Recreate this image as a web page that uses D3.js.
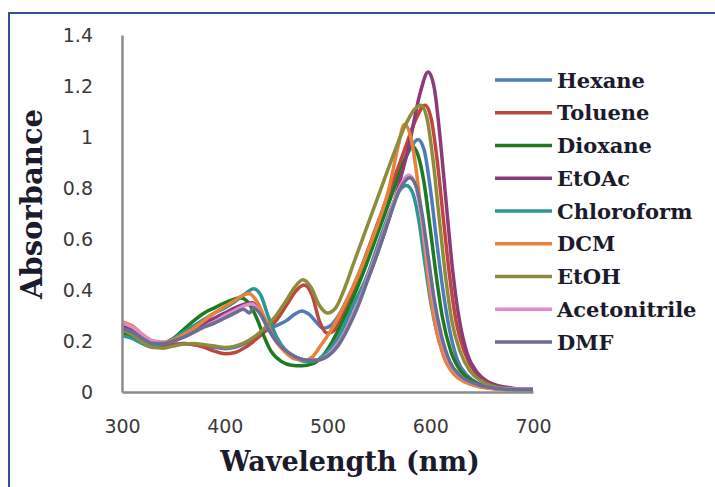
<!DOCTYPE html>
<html>
<head>
<meta charset="utf-8">
<script src="https://cdn.jsdelivr.net/npm/d3@7"></script>
<style>
  body { margin: 0; background: #fff; }
  svg { display: block; }
</style>
</head>
<body>
<svg width="715" height="487"></svg>
<script>
// tick labels
var xTicks = [300, 400, 500, 600, 700];
var yTicks = [0, 0.2, 0.4, 0.6, 0.8, 1, 1.2, 1.4];

var solvents = ["Hexane", "Toluene", "Dioxane", "EtOAc", "Chloroform", "DCM", "EtOH", "Acetonitrile", "DMF"];

// [wavelength nm, absorbance]
var hexane = [[300,0.24],[310,0.22],[320,0.19],[330,0.175],[340,0.178],[350,0.186],[360,0.19],[370,0.186],[380,0.18],[390,0.175],[400,0.17],[410,0.175],[420,0.19],[430,0.215],[440,0.24],[450,0.26],[460,0.28],[468,0.305],[475,0.318],[482,0.305],[490,0.27],[496,0.25],[503,0.26],[510,0.295],[520,0.37],[530,0.46],[540,0.56],[550,0.66],[560,0.76],[570,0.86],[580,0.95],[588,0.99],[594,0.95],[600,0.8],[606,0.6],[612,0.41],[618,0.26],[626,0.13],[636,0.065],[646,0.035],[656,0.02],[670,0.012],[685,0.01],[700,0.01]];
var toluene = [[300,0.25],[310,0.23],[320,0.2],[330,0.18],[340,0.18],[350,0.185],[360,0.19],[370,0.185],[380,0.175],[390,0.16],[400,0.15],[410,0.155],[420,0.175],[430,0.205],[440,0.24],[450,0.28],[460,0.34],[468,0.39],[477,0.42],[485,0.38],[492,0.28],[500,0.23],[506,0.24],[515,0.3],[525,0.4],[535,0.51],[545,0.62],[555,0.73],[565,0.84],[575,0.95],[585,1.06],[595,1.125],[601,1.07],[607,0.9],[613,0.67],[619,0.45],[625,0.28],[633,0.16],[643,0.08],[653,0.045],[663,0.025],[675,0.015],[690,0.01],[700,0.01]];
var dioxane = [[300,0.23],[310,0.215],[320,0.195],[330,0.18],[340,0.19],[350,0.21],[360,0.245],[370,0.28],[380,0.31],[390,0.33],[400,0.35],[410,0.365],[415,0.37],[422,0.355],[430,0.3],[437,0.23],[445,0.16],[455,0.12],[465,0.105],[475,0.103],[485,0.11],[495,0.14],[505,0.2],[515,0.28],[525,0.37],[535,0.47],[545,0.58],[555,0.69],[565,0.8],[575,0.91],[582,0.965],[588,0.93],[594,0.82],[600,0.64],[606,0.45],[612,0.29],[620,0.16],[630,0.08],[640,0.045],[650,0.025],[662,0.015],[680,0.01],[700,0.01]];
var etoac = [[300,0.26],[310,0.245],[320,0.215],[330,0.195],[340,0.19],[350,0.2],[360,0.22],[370,0.245],[380,0.27],[390,0.29],[400,0.31],[410,0.33],[420,0.345],[427,0.35],[434,0.32],[442,0.26],[450,0.2],[460,0.16],[470,0.135],[480,0.125],[490,0.125],[500,0.145],[510,0.19],[520,0.26],[530,0.35],[540,0.45],[550,0.56],[560,0.68],[570,0.82],[580,0.98],[590,1.17],[598,1.255],[604,1.19],[610,0.98],[616,0.72],[622,0.47],[628,0.29],[636,0.15],[646,0.075],[656,0.04],[666,0.025],[680,0.015],[700,0.01]];
var chloroform = [[300,0.22],[310,0.21],[320,0.19],[330,0.18],[340,0.19],[350,0.21],[360,0.235],[370,0.26],[380,0.285],[390,0.31],[400,0.33],[410,0.355],[420,0.385],[428,0.405],[435,0.38],[442,0.3],[450,0.22],[460,0.16],[470,0.13],[480,0.12],[487,0.12],[495,0.14],[505,0.18],[515,0.25],[525,0.34],[538,0.45],[551,0.6],[561,0.71],[570,0.79],[577,0.81],[583,0.78],[589,0.67],[595,0.5],[601,0.34],[608,0.21],[616,0.12],[626,0.065],[636,0.04],[646,0.025],[660,0.015],[680,0.01],[700,0.01]];
var dcm = [[300,0.275],[310,0.26],[320,0.225],[330,0.2],[340,0.195],[350,0.205],[360,0.225],[370,0.25],[380,0.28],[390,0.31],[400,0.335],[410,0.36],[418,0.38],[424,0.385],[432,0.35],[440,0.28],[448,0.21],[458,0.16],[468,0.13],[478,0.125],[486,0.14],[493,0.18],[500,0.22],[510,0.29],[520,0.37],[530,0.46],[540,0.56],[550,0.67],[560,0.8],[568,0.95],[575,1.05],[581,1.0],[587,0.85],[593,0.63],[599,0.42],[605,0.26],[613,0.14],[623,0.07],[633,0.04],[643,0.025],[656,0.015],[675,0.01],[700,0.01]];
var etoh = [[300,0.245],[310,0.225],[320,0.195],[330,0.175],[340,0.172],[350,0.18],[360,0.188],[370,0.19],[380,0.185],[390,0.18],[400,0.175],[410,0.18],[420,0.195],[430,0.22],[440,0.255],[450,0.3],[460,0.36],[468,0.41],[476,0.44],[484,0.41],[492,0.34],[500,0.31],[508,0.33],[516,0.4],[525,0.5],[535,0.61],[545,0.72],[555,0.83],[565,0.94],[575,1.04],[585,1.11],[591,1.125],[597,1.07],[603,0.9],[609,0.67],[615,0.45],[621,0.28],[629,0.16],[639,0.08],[649,0.045],[659,0.025],[672,0.015],[688,0.01],[700,0.01]];
var acetonitrile = [[300,0.27],[310,0.255],[320,0.225],[330,0.2],[340,0.195],[350,0.2],[360,0.215],[370,0.235],[380,0.255],[390,0.275],[400,0.3],[410,0.32],[420,0.34],[427,0.345],[434,0.31],[442,0.25],[450,0.2],[460,0.16],[470,0.135],[480,0.125],[490,0.125],[500,0.145],[510,0.19],[520,0.26],[530,0.35],[540,0.46],[550,0.57],[560,0.69],[570,0.8],[579,0.85],[585,0.82],[591,0.7],[597,0.53],[603,0.36],[610,0.22],[618,0.12],[628,0.065],[638,0.04],[648,0.025],[662,0.015],[680,0.012],[700,0.012]];
var dmf = [[300,0.25],[310,0.235],[320,0.21],[330,0.19],[340,0.19],[350,0.2],[360,0.215],[370,0.235],[380,0.255],[390,0.27],[400,0.29],[410,0.31],[418,0.325],[424,0.31],[428,0.33],[434,0.31],[442,0.25],[450,0.2],[460,0.16],[470,0.135],[480,0.125],[490,0.125],[500,0.14],[510,0.18],[520,0.25],[530,0.34],[540,0.45],[550,0.56],[560,0.68],[570,0.79],[580,0.84],[586,0.81],[592,0.7],[598,0.53],[604,0.36],[611,0.22],[619,0.12],[629,0.065],[639,0.04],[649,0.025],[663,0.015],[680,0.01],[700,0.01]];

var colors = ["#4f7cb8", "#c0453b", "#1e7a1e", "#8b3b78", "#2a9696", "#e8823a", "#8c8c3c", "#e38ac8", "#6a6e90"];

var svg = d3.select("svg");

var series = [hexane, toluene, dioxane, etoac, chloroform, dcm, etoh, acetonitrile, dmf].map(function (v, i) {
    return { name: solvents[i], values: v, color: colors[i] };
});

var x = d3.scaleLinear().domain([300, 700]).range([122, 533]);
var y = d3.scaleLinear().domain([0, 1.4]).range([392, 35]);

// blue frame round the picture
svg.append("path")
    .attr("d", "M9,487 V13 H715")
    .attr("fill", "none")
    .attr("stroke", "#2f5496")
    .attr("stroke-width", 2);

// curves
var line = d3.line()
    .x(function (d) { return x(d[0]); })
    .y(function (d) { return y(d[1]); })
    .curve(d3.curveMonotoneX);

svg.append("g")
    .selectAll("path")
    .data(series)
    .enter().append("path")
    .attr("d", function (d) { return line(d.values); })
    .attr("fill", "none")
    .attr("stroke", function (d) { return d.color; })
    .attr("stroke-width", 3.5)
    .attr("stroke-linejoin", "round");

// axes
var xAxis = svg.append("g")
    .attr("transform", "translate(0," + y(0) + ")")
    .call(d3.axisBottom(x).tickValues(xTicks).tickSize(0).tickPadding(28));
var yAxis = svg.append("g")
    .attr("transform", "translate(" + x(300) + ",0)")
    .call(d3.axisLeft(y).tickValues(yTicks).tickSize(0).tickPadding(29).tickFormat(d3.format("")));

[xAxis, yAxis].forEach(function (g) {
    g.select(".domain").attr("stroke", "#8c8c8c").attr("stroke-width", 2.5);
    g.selectAll("text")
        .attr("fill", "#3a3a3a")
        .style("font-family", "DejaVu Sans")
        .style("font-size", "19px");
});

// axis titles
svg.append("text")
    .attr("x", 350)
    .attr("y", 471)
    .attr("text-anchor", "middle")
    .style("font-family", "DejaVu Serif")
    .style("font-weight", "bold")
    .style("font-size", "27px")
    .attr("fill", "#1b1b2b")
    .text("Wavelength (nm)");

svg.append("text")
    .attr("transform", "translate(42,204) rotate(-90)")
    .attr("text-anchor", "middle")
    .style("font-family", "DejaVu Serif")
    .style("font-weight", "bold")
    .style("font-size", "29px")
    .attr("fill", "#1b1b2b")
    .text("Absorbance");

// legend
var legend = svg.append("g")
    .selectAll("g")
    .data(series)
    .enter().append("g")
    .attr("transform", function (d, i) { return "translate(495," + (80 + i * 32.75) + ")"; });

legend.append("line")
    .attr("x1", 0).attr("x2", 57)
    .attr("stroke", function (d) { return d.color; })
    .attr("stroke-width", 3.5);

legend.append("text")
    .attr("x", 62)
    .attr("y", 7.5)
    .style("font-family", "DejaVu Serif")
    .style("font-weight", "bold")
    .style("font-size", "21px")
    .attr("fill", "#1b1b2b")
    .text(function (d) { return d.name; });
</script>
</body>
</html>
